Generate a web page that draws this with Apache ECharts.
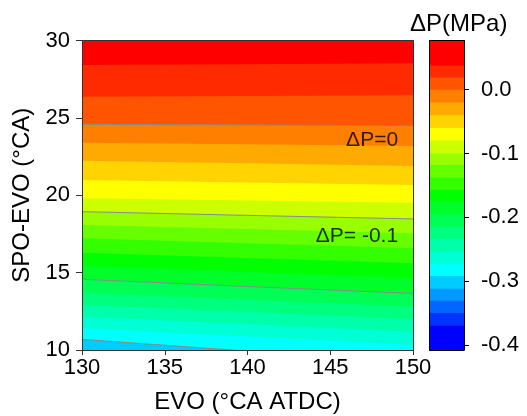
<!DOCTYPE html>
<html>
<head>
<meta charset="utf-8">
<script src="https://cdn.jsdelivr.net/npm/echarts@6/dist/echarts.min.js"></script>
<style>
  html, body { margin: 0; padding: 0; background: #fff; }
  #chart { width: 527px; height: 416px; }
</style>
</head>
<body>
<div id="chart"></div>
<script>
// Axis ticks
const evoTicks = [130, 135, 140, 145, 150];
const spoTicks = [10, 15, 20, 25, 30];
const dpTicks = [-0.4, -0.3, -0.2, -0.1, 0.0];

// EVO positions where each iso-line is sampled
const evoSamples = [130, 140, 150];

// Contour levels of ΔP (MPa), field maximum down to field minimum
const levels = [0.077, 0.038, 0.019, 0, -0.02, -0.04, -0.06, -0.08, -0.1,
  -0.118, -0.138, -0.157, -0.176, -0.195, -0.215, -0.234, -0.254, -0.273,
  -0.292, -0.312, -0.331, -0.35, -0.37, -0.408];

// SPO-EVO (°CA) of the iso-line levels[i + 1] at EVO = 130, 140, 150
const isoLines = [
  [28.42, 28.46, 28.53],
  [26.37, 26.41, 26.46],
  [24.58, 24.54, 24.49],
  [23.40, 23.29, 23.18],
  [22.23, 22.06, 21.89],
  [20.99, 20.82, 20.66],
  [19.80, 19.66, 19.52],
  [18.94, 18.70, 18.47],
  [18.08, 17.82, 17.54],
  [17.22, 16.90, 16.57],
  [16.29, 15.94, 15.60],
  [15.43, 15.04, 14.63],
  [14.57, 14.10, 13.66],
  [13.70, 13.25, 12.80],
  [12.91, 12.46, 11.98],
  [12.15, 11.68, 11.18],
  [11.40, 10.87, 10.32],
  [10.69, 9.93, 9.14]
];

// Major iso-lines (0, -0.1, -0.2, -0.3 MPa) drawn as grey lines
const majorLines = [2, 7, 12, 17];

// In-plot level annotations
const levelLabels = ['ΔP=0', 'ΔP= -0.1'];
const levelLabelAt = [[149.13, 23.57], [149.13, 17.37]];

// Rainbow fill colours, one per band, top to bottom
const palette = ['#FF0000', '#FF2A00', '#FF5500', '#FF7F00', '#FFAA00', '#FFD400',
  '#FFFF00', '#CCFF00', '#99FF00', '#66FF00', '#33FF00', '#00FF00', '#00FF2A',
  '#00FF55', '#00FF7F', '#00FFAA', '#00FFD4', '#00FFFF', '#00CCFF', '#0099FF',
  '#0066FF', '#0033FF', '#0000FF'];

const FONT = '"Liberation Sans", Arial, Helvetica, sans-serif';
const evoMin = evoTicks[0], evoMax = evoTicks[evoTicks.length - 1];
const spoMin = spoTicks[0], spoMax = spoTicks[spoTicks.length - 1];

const bands = palette.map((c, i) => ({ lo: levels[i + 1], hi: levels[i], color: c }));

// Plot bands painted bottom-up: each covers from its lower iso-line to the top edge
const fieldData = [];
for (let i = isoLines.length; i >= 0; i--) {
  const b = bands[i];
  fieldData.push([b.lo, b.hi, (b.lo + b.hi) / 2, i]);
}
// Colour-bar bands painted bottom-up in the same way
const scaleData = [];
for (let i = bands.length - 1; i >= 0; i--) {
  const b = bands[i];
  scaleData.push([b.lo, b.hi, (b.lo + b.hi) / 2, i]);
}

const frameAxis = (grid, pos, color, extra) => Object.assign({
  gridIndex: grid, type: 'value', position: pos, z: 10,
  axisLine: { show: true, onZero: false, lineStyle: { color: color, width: 1 } },
  axisTick: { show: false }, axisLabel: { show: false }, splitLine: { show: false }
}, extra || {});

const chart = echarts.init(document.getElementById('chart'), null, { renderer: 'canvas' });

chart.setOption({
  animation: false,
  textStyle: { fontFamily: FONT },
  title: {
    text: 'ΔP(MPa)', left: 410, top: 12, padding: 0,
    textStyle: { fontSize: 24, fontWeight: 'normal', color: '#000', fontFamily: FONT }
  },
  visualMap: {
    type: 'piecewise', show: false, dimension: 2, seriesIndex: [0, 1],
    pieces: bands.map(b => ({ gte: b.lo, lt: b.hi, color: b.color }))
  },
  grid: [
    { left: 82, top: 40.5, width: 331, height: 309.5, containLabel: false, outerBoundsMode: 'none' },
    { left: 429.5, top: 40.5, width: 34.5, height: 309.5, containLabel: false, outerBoundsMode: 'none' }
  ],
  xAxis: [
    frameAxis(0, 'bottom', '#333', {
      min: evoMin, max: evoMax, interval: 5,
      axisTick: { show: true, inside: false, length: 5, lineStyle: { color: '#333' } },
      axisLabel: { show: true, margin: 7, fontSize: 22, color: '#000', fontFamily: FONT },
      name: 'EVO (°CA ATDC)', nameLocation: 'middle', nameGap: 40,
      nameTextStyle: { fontSize: 24, color: '#000', fontFamily: FONT }
    }),
    frameAxis(0, 'top', '#333', { min: evoMin, max: evoMax }),
    frameAxis(1, 'bottom', '#000', { min: 0, max: 1 }),
    frameAxis(1, 'top', '#000', { min: 0, max: 1 })
  ],
  yAxis: [
    frameAxis(0, 'left', '#333', {
      min: spoMin, max: spoMax, interval: 5,
      axisTick: { show: true, inside: false, length: 6, lineStyle: { color: '#333' } },
      axisLabel: { show: true, margin: 12, fontSize: 22, color: '#000', fontFamily: FONT },
      name: 'SPO-EVO (°CA)', nameLocation: 'middle', nameGap: 38,
      nameTextStyle: { fontSize: 24, color: '#000', fontFamily: FONT }
    }),
    frameAxis(0, 'right', '#333', { min: spoMin, max: spoMax }),
    frameAxis(1, 'right', '#000', {
      min: levels[levels.length - 1], max: levels[0],
      axisTick: { show: true, inside: false, length: 5, customValues: dpTicks, lineStyle: { color: '#000' } },
      axisLabel: {
        show: true, margin: 17, fontSize: 22, color: '#000', fontFamily: FONT,
        customValues: dpTicks, formatter: v => v.toFixed(1)
      }
    }),
    frameAxis(1, 'left', '#000', { min: levels[levels.length - 1], max: levels[0] })
  ],
  series: [
    {
      type: 'custom', name: 'field', xAxisIndex: 0, yAxisIndex: 0, clip: true, z: 2, silent: true,
      data: fieldData,
      renderItem: function (params, api) {
        const line = isoLines[api.value(3)];
        let pts;
        if (line) {
          pts = evoSamples.map((x, j) => api.coord([x, line[j]]));
        } else {
          pts = [api.coord([evoMin, spoMin]), api.coord([evoMax, spoMin])];
        }
        pts.push(api.coord([evoMax, spoMax]), api.coord([evoMin, spoMax]));
        return { type: 'polygon', shape: { points: pts }, style: { fill: api.visual('color') } };
      }
    },
    {
      type: 'custom', name: 'scale', xAxisIndex: 2, yAxisIndex: 2, z: 2, silent: true,
      data: scaleData,
      renderItem: function (params, api) {
        const p0 = api.coord([0, levels[0]]);
        const p1 = api.coord([1, api.value(0)]);
        return {
          type: 'rect',
          shape: { x: p0[0], y: p0[1], width: p1[0] - p0[0], height: p1[1] - p0[1] },
          style: { fill: api.visual('color') }
        };
      }
    },
    ...majorLines.map(i => ({
      type: 'line', xAxisIndex: 0, yAxisIndex: 0, z: 5, silent: true, clip: true,
      symbol: 'none', smooth: false,
      lineStyle: { color: '#8a8a8a', width: 1 },
      data: evoSamples.map((x, j) => [x, isoLines[i][j]])
    })),
    {
      type: 'scatter', xAxisIndex: 0, yAxisIndex: 0, z: 6, silent: true,
      symbolSize: 1, itemStyle: { color: 'transparent' },
      data: levelLabelAt.map((p, i) => ({ value: p, name: levelLabels[i] })),
      label: {
        show: true, position: 'left', distance: 0, formatter: '{b}',
        fontSize: 21, color: '#000', fontFamily: FONT
      }
    }
  ]
});
</script>
</body>
</html>
